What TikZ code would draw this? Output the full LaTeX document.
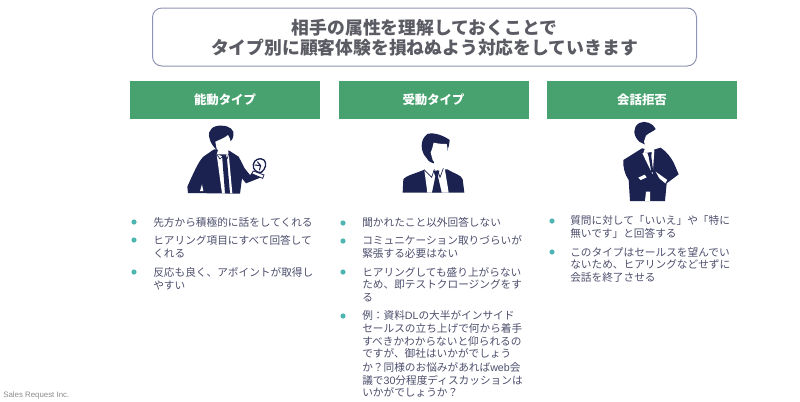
\documentclass[tikz,border=0pt]{standalone}
\usepackage{fontspec}
\setmainfont{Noto Sans CJK JP}
\newfontfamily\latinfont{Liberation Sans}
\definecolor{hdrgreen}{HTML}{48A26F}
\definecolor{navyfig}{HTML}{1B2250}
\definecolor{titlegrey}{HTML}{5A5B63}
\definecolor{bodyink}{HTML}{4C4E6C}
\definecolor{boxedge}{HTML}{9094B4}
\definecolor{teal}{HTML}{4FB5B2}
\tikzset{
 titlebox/.style={draw=boxedge,line width=0.75pt,rounded corners=7pt,fill=white,minimum width=408pt,minimum height=43.5pt,inner sep=0},
 titletext/.style={font=\fontsize{13.35pt}{15pt}\selectfont\bfseries,text=titlegrey,inner sep=0},
 hdr/.style={fill=hdrgreen,minimum width=142.5pt,minimum height=28.5pt,inner sep=0,text=white,font=\fontsize{9.3pt}{11pt}\selectfont\bfseries},
 bodyline/.style={anchor=west,inner sep=0,text=bodyink,font=\fontsize{8pt}{10pt}\selectfont,text height=5.6pt,text depth=1.1pt,yshift=-0.75pt},
 dotmark/.style={circle,fill=teal,minimum size=3.9pt,inner sep=0},
 ink/.style={fill=navyfig,draw=none},
 paper/.style={fill=white,draw=none},
 seam/.style={draw=navyfig,line width=0.5pt,fill=none}
}
\newcommand{\tl}[4]{\node[bodyline] (#1) at (#2,#3) {#4};}
\newcommand{\bl}[3]{\node[dotmark] (#1) at (#2,#3) {};}
\begin{document}
\begin{tikzpicture}[x=0.75pt,y=-0.75pt]
\useasboundingbox (0,0) rectangle (800,401);
\node[titlebox] (tbox) at (424.5,37) {};
\node[titletext] (t1) at (424.5,27.5) {相手の属性を理解しておくことで};
\node[titletext] (t2) at (424.5,47.5) {タイプ別に顧客体験を損ねぬよう対応をしていきます};
\node[hdr] (h1) at (225,100) {能動タイプ};
\node[hdr] (h2) at (433.5,100) {受動タイプ};
\node[hdr] (h3) at (642,100) {会話拒否};
% figure 1
\begin{scope}[shift={(170,115)},x=0.25pt,y=-0.25pt]
\fill[ink] (132,103) -- (100,125) .. controls (85,140) and (70,175) .. (52,215) -- (54,234) -- (210,236) -- (216,190) -- (228,205) -- (276,186) -- (250,172) -- (240,180) -- (224,160) -- (206,125) -- (176,106) -- cycle;
\fill[paper] (90,228) -- (96,208) -- (100,228) -- cycle;
\fill[ink] (118,68) .. controls (112,45) and (130,30) .. (155,32) .. controls (178,32) and (195,45) .. (190,62) .. controls (188,72) and (185,78) .. (180,80) -- (140,105) .. controls (130,95) and (122,85) .. (118,68) -- cycle;
\fill[paper] (136,80) .. controls (150,74) and (165,68) .. (174,60) .. controls (184,75) and (185,92) .. (180,102) .. controls (168,114) and (150,112) .. (140,102) -- cycle;
\fill[paper] (146,100) -- (174,100) -- (176,118) -- (140,118) -- cycle;
\fill[paper] (140,118) -- (158,124) -- (176,116) -- (187,235) -- (156,235) -- cycle;
\fill[ink] (156,122) -- (168,120) -- (171,132) -- (180,235) -- (165,235) -- (157,132) -- cycle;
\draw[seam] (140,118) -- (150,132) -- (158,124) -- (172,130) -- (176,116);
\fill[paper,draw=navyfig,line width=1pt] (250,148) .. controls (252,134) and (270,126) .. (282,135) .. controls (292,146) and (286,162) .. (274,172) .. controls (262,174) and (247,165) .. (250,148) -- cycle;
\draw[navyfig,line width=0.8pt] (254,150) -- (272,152) (262,140) -- (272,152) -- (268,166);
\fill[paper,draw=navyfig,line width=0.6pt] (245,176) -- (250,168) -- (282,180) -- (278,190) -- cycle;
\end{scope}
% figure 2
\begin{scope}[shift={(390,120)},x=0.25pt,y=-0.25pt]
\fill[ink] (38,218) -- (40,178) .. controls (50,165) and (80,160) .. (105,148) -- (172,148) .. controls (190,160) and (215,165) .. (218,178) -- (223,218) -- cycle;
\fill[paper] (103,150) -- (125,128) -- (158,128) -- (165,150) -- (176,218) -- (112,218) -- cycle;
\fill[ink] (130,152) -- (148,152) -- (144,170) -- (155,218) -- (126,218) -- (136,170) -- cycle;
\draw[seam] (103,150) -- (125,172) -- (133,148) (160,145) -- (150,172) -- (143,150);
\fill[ink] (108,112) .. controls (92,95) and (88,60) .. (112,42) .. controls (135,35) and (165,50) .. (179,60) .. controls (178,72) and (176,82) .. (172,92) -- (128,108) -- (132,130) .. controls (118,127) and (112,120) .. (108,112) -- cycle;
\fill[paper] (122,98) .. controls (127,88) and (128,78) .. (131,68) .. controls (148,72) and (162,72) .. (170,72) .. controls (176,90) and (172,110) .. (160,122) .. controls (150,132) and (135,130) .. (128,120) -- cycle;
\end{scope}
% figure 3
\begin{scope}[shift={(610,115)},x=0.25pt,y=-0.25pt]
\fill[ink] (40,135) -- (96,100) -- (125,106) -- (152,98) .. controls (170,110) and (185,130) .. (192,145) -- (206,178) -- (170,205) -- (165,258) -- (60,258) -- (56,195) .. controls (45,180) and (38,155) .. (40,135) -- cycle;
\fill[paper] (97,115) -- (133,108) -- (128,178) -- cycle;
\fill[ink] (112,113) -- (125,110) -- (124,125) -- (130,172) -- (124,172) -- (116,125) -- cycle;
\fill[paper] (85,188) -- (104,179) -- (110,187) -- (92,195) -- cycle;
\fill[paper] (137,170) -- (172,195) -- (166,205) -- (148,190) -- cycle;
\fill[paper] (108,230) -- (120,230) -- (120,258) -- (105,258) -- cycle;
\fill[ink] (88,80) .. controls (68,62) and (68,35) .. (88,24) .. controls (105,15) and (130,25) .. (137,42) .. controls (135,50) and (125,55) .. (118,55) -- (108,90) -- cycle;
\fill[paper] (102,80) -- (108,62) -- (116,56) -- (137,44) .. controls (142,60) and (146,78) .. (142,90) .. controls (130,100) and (118,98) .. (106,92) -- cycle;
\fill[paper] (108,90) -- (132,96) -- (132,110) -- (100,114) -- cycle;
\end{scope}
% column 1
\bl{b11}{134}{222}\bl{b12}{134}{240}\bl{b13}{134}{272}
\tl{a1}{153}{222}{先方から積極的に話をしてくれる}
\tl{a2}{153}{240}{ヒアリング項目にすべて回答して}
\tl{a3}{153}{253}{くれる}
\tl{a4}{153}{272}{反応も良く、アポイントが取得し}
\tl{a5}{153}{285}{やすい}
% column 2
\bl{b21}{343}{223}\bl{b22}{343}{241}\bl{b23}{343}{272}\bl{b24}{343}{316}
\tl{c1}{362}{222}{聞かれたこと以外回答しない}
\tl{c2}{362}{240}{コミュニケーション取りづらいが}
\tl{c3}{362}{253}{緊張する必要はない}
\tl{c4}{362}{272}{ヒアリングしても盛り上がらない}
\tl{c5}{362}{284}{ため、即テストクロージングをす}
\tl{c6}{362}{297}{る}
\tl{c7}{362}{315}{例：資料{\latinfont DL}の大半がインサイド}
\tl{c8}{362}{328}{セールスの立ち上げで何から着手}
\tl{c9}{362}{341}{すべきかわからないと仰られるの}
\tl{c10}{362}{353}{ですが、御社はいかがでしょう}
\tl{c11}{362}{367}{か？同様のお悩みがあれば{\latinfont web}会}
\tl{c12}{362}{380}{議で{\latinfont 30}分程度ディスカッションは}
\tl{c13}{362}{392}{いかがでしょうか？}
% column 3
\bl{b31}{552}{221}\bl{b32}{552}{252}
\tl{d1}{570}{220}{質問に対して「いいえ」や「特に}
\tl{d2}{570}{233}{無いです」と回答する}
\tl{d3}{570}{252}{このタイプはセールスを望んでい}
\tl{d4}{570}{264}{ないため、ヒアリングなどせずに}
\tl{d5}{570}{277}{会話を終了させる}
\node[anchor=west,inner sep=0,text=black!45,font=\latinfont\fontsize{5.9pt}{8pt}\selectfont] (foot) at (3,395) {Sales Request Inc.};
\end{tikzpicture}
\end{document}
